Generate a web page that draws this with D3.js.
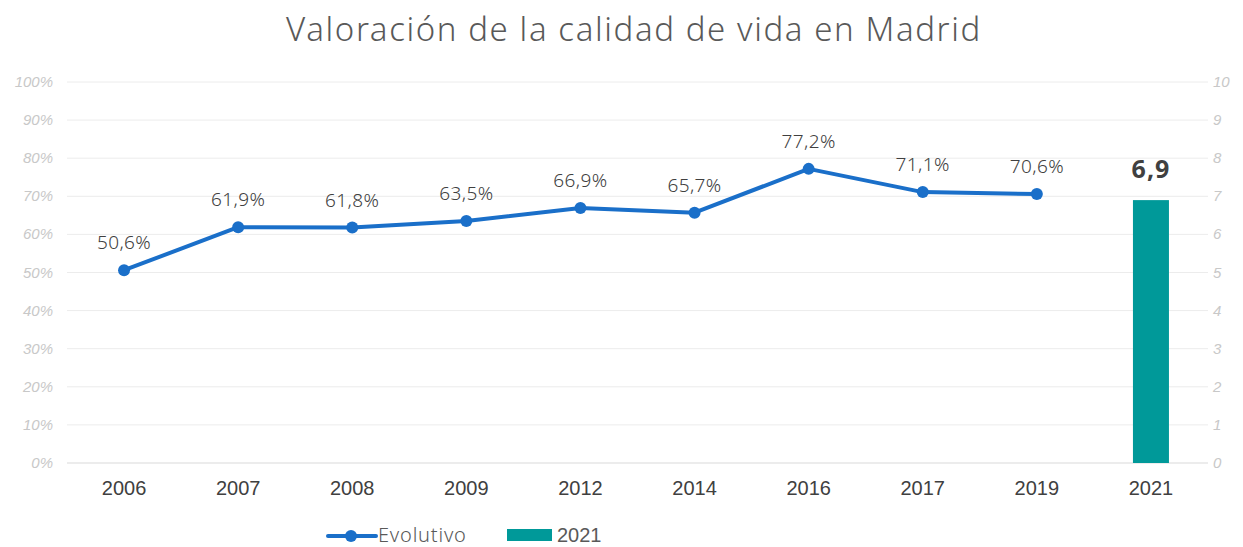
<!DOCTYPE html>
<html lang="es">
<head>
<meta charset="UTF-8">
<title>Valoración de la calidad de vida en Madrid</title>
<style>
  body { margin: 0; background: #fff; }
  #chart { display: block; }
  .grid line { stroke: #ececec; stroke-width: 1; }
  .tick-y text { font-family: "Liberation Sans", Arial, sans-serif; font-style: italic; font-size: 15px; fill: #c8c8c8; }
</style>
</head>
<body>
<svg id="chart"></svg>
<script src="https://d3js.org/d3.v7.min.js"></script>
<script>
// data
const years = ["2006", "2007", "2008", "2009", "2012", "2014", "2016", "2017", "2019", "2021"];
const lineYears = ["2006", "2007", "2008", "2009", "2012", "2014", "2016", "2017", "2019"];
const lineValues = [50.6, 61.9, 61.8, 63.5, 66.9, 65.7, 77.2, 71.1, 70.6];
const barYear = "2021";
const barValue = 6.9;
const leftTicks = [0, 10, 20, 30, 40, 50, 60, 70, 80, 90, 100];
const rightTicks = [0, 1, 2, 3, 4, 5, 6, 7, 8, 9, 10];

const w = 1243, h = 547;
const plotLeft = 67, plotRight = 1208, plotTop = 82, plotBottom = 463;

const svg = d3.select("#chart").attr("width", w).attr("height", h);

const x = d3.scaleBand().domain(years).range([plotLeft, plotRight]);
const yL = d3.scaleLinear().domain([0, 100]).range([plotBottom, plotTop]);
const yR = d3.scaleLinear().domain([0, 10]).range([plotBottom, plotTop]);

const fmt = v => d3.format(".1f")(v).replace(".", ",");

// title
svg.append("text")
  .attr("x", 634).attr("y", 41)
  .attr("text-anchor", "middle")
  .style("font-family", "'Noto Sans', sans-serif")
  .style("font-weight", 300)
  .style("font-size", "33px")
  .style("letter-spacing", "1.6px")
  .style("fill", "#595959")
  .text("Valoración de la calidad de vida en Madrid");

// gridlines
svg.append("g").attr("class", "grid")
  .selectAll("line").data(leftTicks).enter().append("line")
  .attr("x1", plotLeft).attr("x2", plotRight)
  .attr("y1", d => yL(d)).attr("y2", d => yL(d))
  .style("stroke", d => d === 0 ? "#d9d9d9" : "#ececec");

// left axis labels
svg.append("g").attr("class", "tick-y")
  .selectAll("text").data(leftTicks).enter().append("text")
  .attr("x", 53).attr("y", d => yL(d) + 5)
  .attr("text-anchor", "end")
  .text(d => d + "%");

// right axis labels
svg.append("g").attr("class", "tick-y")
  .selectAll("text").data(rightTicks).enter().append("text")
  .attr("x", 1213).attr("y", d => yR(d) + 5)
  .attr("text-anchor", "start")
  .text(d => d);

// x axis
const xAxis = svg.append("g")
  .attr("transform", "translate(0," + plotBottom + ")")
  .call(d3.axisBottom(x).tickSize(0).tickPadding(18));
xAxis.select(".domain").remove();
xAxis.selectAll("text")
  .attr("dy", null)
  .attr("y", 32)
  .style("font-family", "'Liberation Sans', Arial, sans-serif")
  .style("font-size", "20px")
  .style("fill", "#404040");

// bar
const barW = 36;
svg.append("rect")
  .attr("x", x(barYear) + x.bandwidth() / 2 - barW / 2)
  .attr("y", yR(barValue))
  .attr("width", barW)
  .attr("height", plotBottom - yR(barValue))
  .attr("fill", "#009999");

svg.append("text")
  .attr("x", x(barYear) + x.bandwidth() / 2)
  .attr("y", yR(barValue) - 22)
  .attr("text-anchor", "middle")
  .style("font-family", "'Noto Sans', sans-serif")
  .style("font-weight", 700)
  .style("font-size", "25px")
  .style("letter-spacing", "1px")
  .style("fill", "#404040")
  .text(fmt(barValue));

// line
const pts = lineYears.map((yr, i) => [x(yr) + x.bandwidth() / 2, yL(lineValues[i])]);
svg.append("path")
  .attr("d", d3.line()(pts))
  .attr("fill", "none")
  .attr("stroke", "#1a6fc9")
  .attr("stroke-width", 4)
  .attr("stroke-linejoin", "round");

svg.selectAll(".pt").data(pts).enter().append("circle")
  .attr("class", "pt")
  .attr("cx", d => d[0]).attr("cy", d => d[1]).attr("r", 6)
  .attr("fill", "#1a6fc9");

svg.selectAll(".lbl").data(lineValues).enter().append("text")
  .attr("class", "lbl")
  .attr("x", (d, i) => pts[i][0])
  .attr("y", (d, i) => pts[i][1] - 21)
  .attr("text-anchor", "middle")
  .style("font-family", "'Noto Sans', sans-serif")
  .style("font-weight", 300)
  .style("font-size", "19px")
  .style("letter-spacing", "0.4px")
  .style("fill", "#404040")
  .text(d => fmt(d) + "%");

// legend
const lg = svg.append("g");
lg.append("line").attr("x1", 328).attr("x2", 376).attr("y1", 536).attr("y2", 536)
  .attr("stroke", "#1a6fc9").attr("stroke-width", 4).attr("stroke-linecap", "round");
lg.append("circle").attr("cx", 351).attr("cy", 536).attr("r", 6).attr("fill", "#1a6fc9");
lg.append("text").attr("x", 378).attr("y", 542)
  .style("font-family", "'Noto Sans', sans-serif").style("font-weight", 300)
  .style("font-size", "20px").style("letter-spacing", "0.8px").style("fill", "#595959")
  .text("Evolutivo");
lg.append("rect").attr("x", 507).attr("y", 529).attr("width", 45).attr("height", 12).attr("fill", "#009999");
lg.append("text").attr("x", 557).attr("y", 542)
  .style("font-family", "'Liberation Sans', Arial, sans-serif").style("font-size", "20px").style("fill", "#595959")
  .text("2021");
</script>
</body>
</html>
